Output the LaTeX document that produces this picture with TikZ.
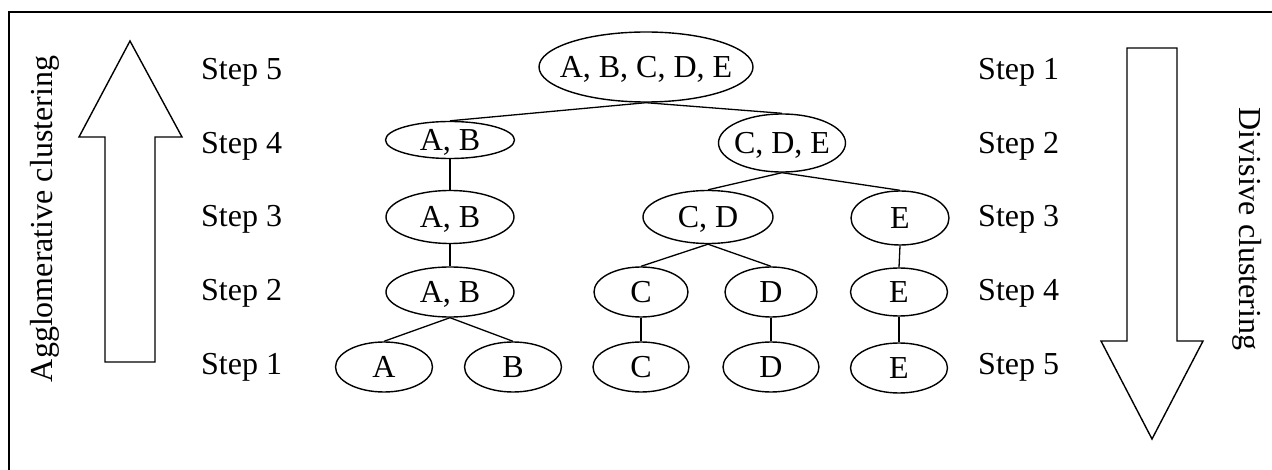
\documentclass[tikz,border=0pt]{standalone}
\usepackage{fontspec}
\setmainfont{Liberation Serif}
\usetikzlibrary{shapes.geometric}
\newcommand{\zw}[1]{\makebox[0pt]{#1}}
\begin{document}
\begin{tikzpicture}[x=1pt,y=-1pt,
  every node/.style={font=\fontsize{32}{36}\selectfont, text height=21pt, text depth=0pt, inner sep=0pt},
  cluster/.style={draw, ellipse, line width=1.4pt},
  steplabel/.style={anchor=west},
  link/.style={line width=1.3pt},
  bigarrow/.style={draw, line width=1.4pt, line join=miter}]
\useasboundingbox (0,0) rectangle (1272,470);
\begin{scope}
\clip (0,0) rectangle (1272,470);
\draw[line width=2pt] (9,12) rectangle (1300,500);
\end{scope}

% hollow arrows
\draw[bigarrow] (130,41) -- (182,137) -- (155,137) -- (155,362) -- (105,362) -- (105,137) -- (79,137) -- cycle;
\draw[bigarrow] (1152,439) -- (1203,341) -- (1177,341) -- (1177,48) -- (1127,48) -- (1127,341) -- (1101,341) -- cycle;

\node[rotate=90] (agg) at (42,219) {Agglomerative clustering};
\node[rotate=-90] (div) at (1250,229) {Divisive clustering};

% step labels
\foreach \k/\n in {0/5,1/4,2/3,3/2,4/1}{
  \node[steplabel] (L\n) at (201,69.5+73.5*\k) {Step \n};
}
\foreach \k/\n in {0/1,1/2,2/3,3/4,4/5}{
  \node[steplabel] (R\n) at (978,69.5+73.5*\k) {Step \n};
}

% tree
\node[cluster, minimum width=214pt, minimum height=70pt] (abcde) at (646,67) {\zw{A, B, C, D, E}};

\node[cluster, minimum width=129pt, minimum height=37pt] (ab1) at (450,140) {\zw{A, B}};
\node[cluster, minimum width=127pt, minimum height=58pt] (cde) at (782,143) {\zw{C, D, E}};

\node[cluster, minimum width=128pt, minimum height=53pt] (ab2) at (450,217) {\zw{A, B}};
\node[cluster, minimum width=130pt, minimum height=53pt] (cd) at (708,217) {\zw{C, D}};
\node[cluster, minimum width=98pt, minimum height=54pt] (e2) at (900,218) {\zw{E}};

\node[cluster, minimum width=128pt, minimum height=50pt] (ab3) at (450,292) {\zw{A, B}};
\node[cluster, minimum width=94pt, minimum height=50pt] (c3) at (641,292) {\zw{C}};
\node[cluster, minimum width=92pt, minimum height=50pt] (d3) at (771,292) {\zw{D}};
\node[cluster, minimum width=97pt, minimum height=48pt] (e3) at (899,292) {\zw{E}};

\node[cluster, minimum width=97pt, minimum height=50pt] (a4) at (384,367) {\zw{A}};
\node[cluster, minimum width=97pt, minimum height=50pt] (b4) at (513,367) {\zw{B}};
\node[cluster, minimum width=96pt, minimum height=50pt] (c4) at (641,367) {\zw{C}};
\node[cluster, minimum width=96pt, minimum height=50pt] (d4) at (771,367) {\zw{D}};
\node[cluster, minimum width=97pt, minimum height=50pt] (e4) at (899,368) {\zw{E}};

\draw[link] (abcde.south) -- (ab1.north);
\draw[link] (abcde.south) -- (cde.north);
\draw[link] (ab1.south) -- (ab2.north);
\draw[link] (cde.south) -- (cd.north);
\draw[link] (cde.south) -- (e2.north);
\draw[link] (ab2.south) -- (ab3.north);
\draw[link] (cd.south) -- (c3.north);
\draw[link] (cd.south) -- (d3.north);
\draw[link] (e2.south) -- (e3.north);
\draw[link] (ab3.south) -- (a4.north);
\draw[link] (ab3.south) -- (b4.north);
\draw[link] (c3.south) -- (c4.north);
\draw[link] (d3.south) -- (d4.north);
\draw[link] (e3.south) -- (e4.north);
\end{tikzpicture}
\end{document}
